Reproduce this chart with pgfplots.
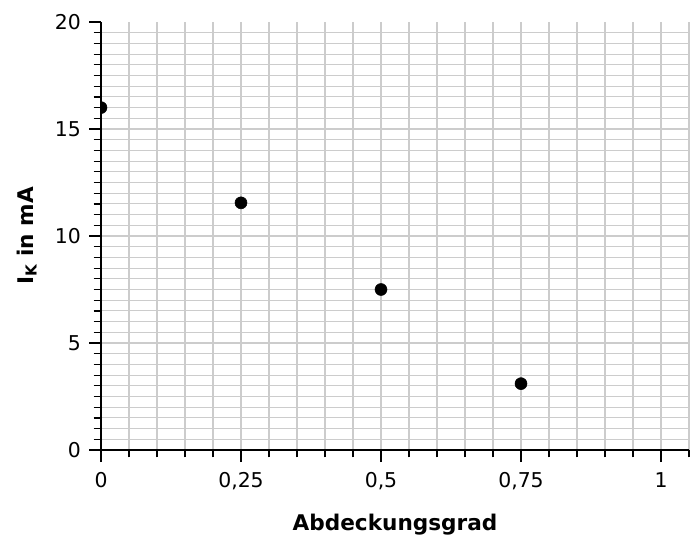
\documentclass[border=0pt]{standalone}
\usepackage{fontspec}
\setmainfont{DejaVu Sans}
\usepackage{pgfplots}
\pgfplotsset{compat=1.18}
\begin{document}
\begin{tikzpicture}
\path[use as bounding box] (-75.75pt,-67.5pt) rectangle (448.5pt,337.5pt);
\begin{axis}[
  at={(0,0)}, anchor=south west,
  scale only axis, width=441pt, height=321pt,
  xmin=0, xmax=1.05, ymin=0, ymax=20,
  axis x line=bottom, axis y line=left,
  axis line style={-, black, line width=1pt},
  xtick={0,0.25,0.5,0.75,1},
  minor xtick={0,0.05,0.1,0.15,0.2,0.25,0.3,0.35,0.4,0.45,0.5,0.55,0.6,0.65,0.7,0.75,0.8,0.85,0.9,0.95,1,1.05},
  ytick={0,5,10,15,20},
  minor ytick={0,0.5,...,19.5},
  tick align=outside,
  major tick length=9pt, minor tick length=5.5pt,
  tick style={black, line width=0.9pt},
  grid=minor,
  minor grid style={color=black!20, line width=0.8pt},
  /pgf/number format/assume math mode=true,
  /pgf/number format/use comma,
  /pgf/number format/precision=2,
  ticklabel style={font=\fontsize{15.3}{18}\selectfont},
  xticklabel style={yshift=-4.5pt},
  yticklabel style={xshift=-2.5pt},
  label style={font=\bfseries\fontsize{16.2}{19}\selectfont},
  xlabel={Abdeckungsgrad},
  ylabel={I\textsubscript{K} in mA},
  xlabel shift=11pt,
  ylabel shift=7pt,
  clip marker paths=true,
]
\addplot[only marks, mark=*, mark size=4.5pt, black] coordinates {
  (0,16) (0.25,11.55) (0.5,7.5) (0.75,3.1)
};
\end{axis}
\end{tikzpicture}
\end{document}
